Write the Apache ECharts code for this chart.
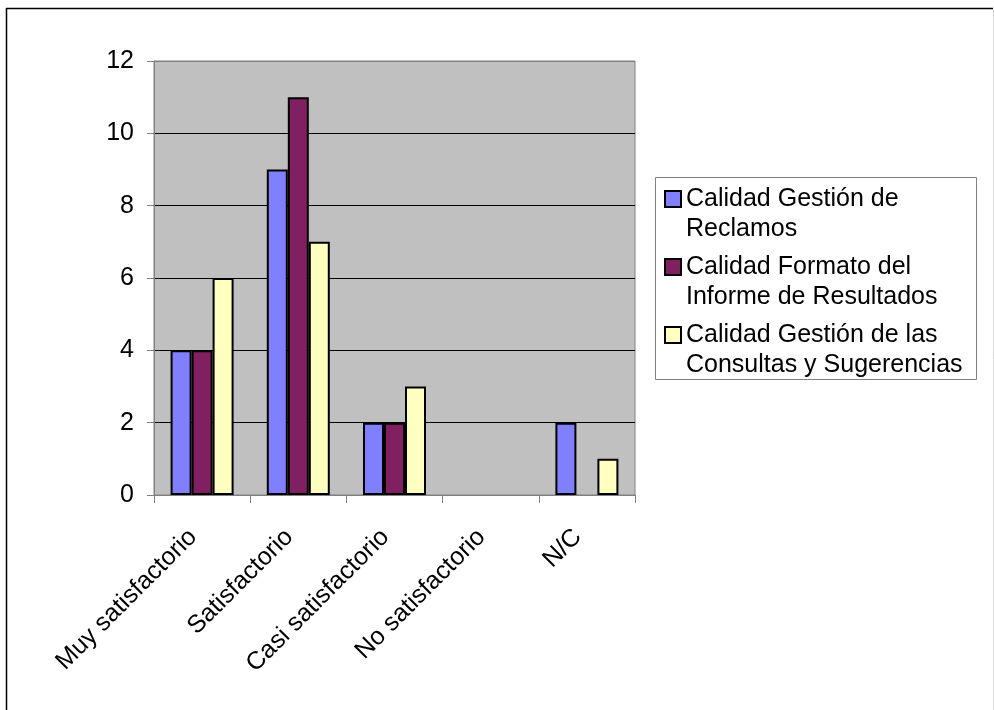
<!DOCTYPE html>
<html>
<head>
<meta charset="utf-8">
<script src="https://cdn.jsdelivr.net/npm/echarts@6/dist/echarts.min.js"></script>
<style>
html,body{margin:0;padding:0;background:#fff;}
#chart{width:994px;height:710px;}
</style>
</head>
<body>
<div id="chart"></div>
<script>
const categories = ['Muy satisfactorio', 'Satisfactorio', 'Casi satisfactorio', 'No satisfactorio', 'N/C'];
const seriesNames = ['Calidad Gestión de\nReclamos', 'Calidad Formato del\nInforme de Resultados', 'Calidad Gestión de las\nConsultas y Sugerencias'];
const reclamos = [4, 9, 2, 0, 2];
const formato = [4, 11, 2, 0, 0];
const consultas = [6, 7, 3, 0, 1];
const yTicks = [0, 2, 4, 6, 8, 10, 12];

const colors = ['#8080FF', '#802060', '#FFFFC0'];
const FONT = "'Liberation Sans', Arial, sans-serif";

// zero-valued bars are not drawn in the reference (no outline), so hide them
const asBars = arr => arr.map(v => (v === 0 ? null : v));

const chart = echarts.init(document.getElementById('chart'), null, {renderer: 'canvas'});

const seriesData = [reclamos, formato, consultas];

chart.setOption({
  animation: false,
  backgroundColor: '#ffffff',
  textStyle: {fontFamily: FONT},
  grid: {
    left: 154, right: 359, top: 61, bottom: 215,
    show: true, backgroundColor: '#C0C0C0', borderColor: '#808080', borderWidth: 1
  },
  legend: {
    orient: 'vertical',
    left: 664, top: 154,
    padding: 0,
    itemGap: -22,
    itemWidth: 16, itemHeight: 16,
    icon: 'rect',
    itemStyle: {borderColor: '#000', borderWidth: 2},
    formatter: name => '\n' + name,
    textStyle: {fontSize: 25, lineHeight: 30, color: '#000', fontFamily: FONT},
    data: seriesNames
  },
  xAxis: {
    type: 'category',
    data: categories,
    boundaryGap: true,
    axisLine: {lineStyle: {color: '#808080', width: 1}},
    axisTick: {show: true, alignWithLabel: false, length: 8, lineStyle: {color: '#808080'}},
    axisLabel: {
      interval: 0, rotate: 45, fontSize: 25, color: '#000', fontFamily: FONT,
      margin: 29, padding: [0, 13, 0, 0]
    },
    splitLine: {show: false}
  },
  yAxis: {
    type: 'value',
    min: yTicks[0], max: yTicks[yTicks.length - 1], interval: 2,
    axisLine: {show: true, lineStyle: {color: '#808080', width: 1}},
    axisTick: {show: true, length: 7, lineStyle: {color: '#808080'}},
    axisLabel: {fontSize: 25, color: '#000', margin: 20, fontFamily: FONT},
    splitLine: {show: true, lineStyle: {color: ['#000', '#000', '#000', '#000', '#000', '#000', '#808080'], width: 1}}
  },
  series: seriesNames.map((name, i) => ({
    name: name,
    type: 'bar',
    data: asBars(seriesData[i]),
    barWidth: 21,
    barGap: '0%',
    itemStyle: {color: colors[i], borderColor: '#000', borderWidth: 2}
  })),
  graphic: [
    {type: 'rect', z: 0, silent: true, shape: {x: 655.5, y: 177.5, width: 321, height: 202},
     style: {fill: '#fff', stroke: '#808080', lineWidth: 1}},
    {type: 'line', silent: true, shape: {x1: 6.5, y1: 8, x2: 6.5, y2: 710}, style: {stroke: '#000', lineWidth: 1.5}},
    {type: 'line', silent: true, shape: {x1: 6, y1: 8.5, x2: 993, y2: 8.5}, style: {stroke: '#000', lineWidth: 1.5}},
    {type: 'line', silent: true, shape: {x1: 993.5, y1: 9, x2: 993.5, y2: 710}, style: {stroke: '#d8d8d8', lineWidth: 1}}
  ]
});
</script>
</body>
</html>
